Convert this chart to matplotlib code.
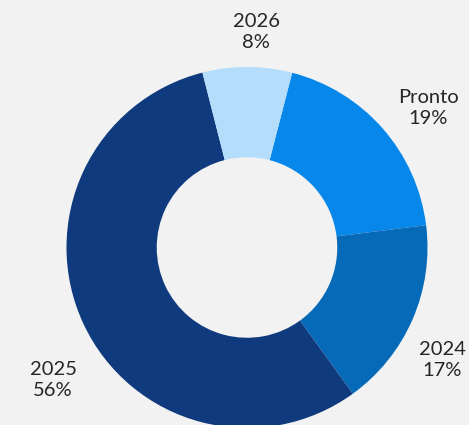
import matplotlib
matplotlib.use("Agg")
import matplotlib.pyplot as plt

categories = ["Pronto", "2024", "2025", "2026"]
values = [19, 17, 56, 8]
colors = ["#0787EA", "#066AB8", "#0F3A7D", "#B3DDFB"]
label_pos = [(428, 108), (442, 360), (53, 380), (256, 32)]

W, H = 469, 425
fig = plt.figure(figsize=(W / 100, H / 100), dpi=100, facecolor="#F2F2F2")
ax = fig.add_axes([0, 0, 1, 1])
ax.set_facecolor("#F2F2F2")

cx, cy, R = 247, H - 247.5, 180.5
ax.pie(values, colors=colors, startangle=75.5, counterclock=False,
       radius=R, center=(cx, cy),
       wedgeprops=dict(width=R * 0.5, linewidth=0))
ax.set_xlim(0, W)
ax.set_ylim(0, H)
ax.set_aspect("equal")
ax.axis("off")

for cat, v, (x, y) in zip(categories, values, label_pos):
    ax.text(x, H - y, f"{cat}\n{v}%", ha="center", va="center",
            fontsize=14.5, color="#262626", family="Lato", linespacing=1.25)

fig.savefig("out.png", dpi=100, facecolor=fig.get_facecolor())
